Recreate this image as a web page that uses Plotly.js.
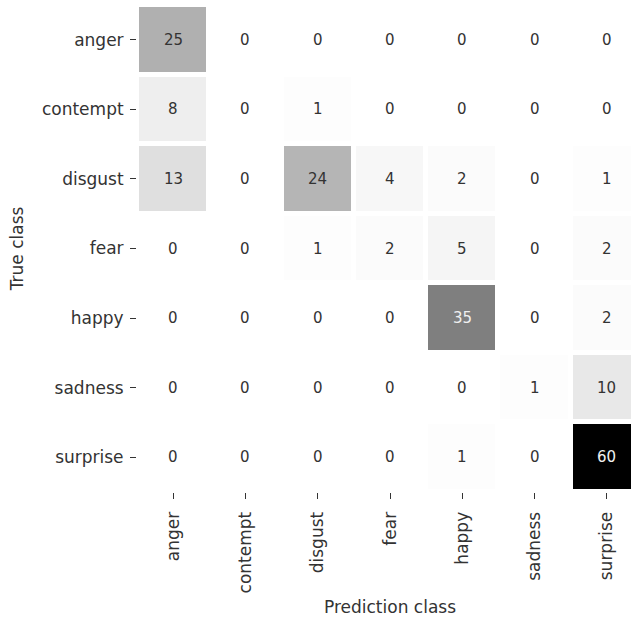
<!DOCTYPE html>
<html>
<head>
<meta charset="utf-8">
<script src="https://cdn.plot.ly/plotly-3.0.1.min.js"></script>
<style>
html,body{margin:0;padding:0;overflow:hidden;background:#fff;}
#chart{width:660px;height:617px;}
</style>
</head>
<body>
<div id="chart"></div>
<script>
const classes = ["anger","contempt","disgust","fear","happy","sadness","surprise"];
const trueClassLabels = classes;
const predClassLabels = classes;
// rows = true class, columns = predicted class
const counts = [
  [25, 0, 0, 0, 0, 0, 0],
  [8, 0, 1, 0, 0, 0, 0],
  [13, 0, 24, 4, 2, 0, 1],
  [0, 0, 1, 2, 5, 0, 2],
  [0, 0, 0, 0, 35, 0, 2],
  [0, 0, 0, 0, 0, 1, 10],
  [0, 0, 0, 0, 1, 0, 60]
];

const zmax = 60;
const greys = [
  [0, 'rgb(255,255,255)'], [0.125, 'rgb(240,240,240)'], [0.25, 'rgb(217,217,217)'],
  [0.375, 'rgb(189,189,189)'], [0.5, 'rgb(150,150,150)'], [0.625, 'rgb(115,115,115)'],
  [0.75, 'rgb(82,82,82)'], [0.875, 'rgb(37,37,37)'], [1, 'rgb(0,0,0)']
];

const annotations = [];
counts.forEach((row, i) => {
  row.forEach((v, j) => {
    annotations.push({
      x: predClassLabels[j], y: trueClassLabels[i], xref: 'x', yref: 'y',
      text: String(v), showarrow: false,
      font: {family: 'DejaVu Sans', size: 15, color: (v / zmax > 0.45) ? '#f0f0f0' : '#333333'}
    });
  });
});

const trace = {
  type: 'heatmap',
  z: counts, x: predClassLabels, y: trueClassLabels,
  colorscale: greys, zmin: 0, zmax: zmax,
  showscale: false, xgap: 5, ygap: 5, hoverinfo: 'skip'
};

const tickFont = {family: 'DejaVu Sans', size: 17, color: '#333333'};
const titleFont = {family: 'DejaVu Sans', size: 17, color: '#333333'};
const layout = {
  width: 660, height: 617,
  margin: {l: 137, r: 17, t: 5, b: 125},
  paper_bgcolor: '#fff', plot_bgcolor: '#fff',
  font: {family: 'DejaVu Sans', color: '#333333'},
  xaxis: {
    type: 'category', tickangle: -90, ticks: 'outside', ticklen: 6, tickwidth: 1, tickcolor: '#333333',
    ticklabelstandoff: 6,
    tickfont: tickFont, showgrid: false, zeroline: false, showline: false,
    title: {text: 'Prediction class', font: titleFont, standoff: 8}
  },
  yaxis: {
    type: 'category', autorange: 'reversed', ticks: 'outside', ticklen: 6, tickwidth: 1, tickcolor: '#333333',
    ticklabelstandoff: 3,
    tickfont: tickFont, showgrid: false, zeroline: false, showline: false,
    title: {text: 'True class', font: titleFont, standoff: 13}
  },
  annotations: annotations
};

Plotly.newPlot('chart', [trace], layout, {staticPlot: true, displayModeBar: false});
</script>
</body>
</html>
